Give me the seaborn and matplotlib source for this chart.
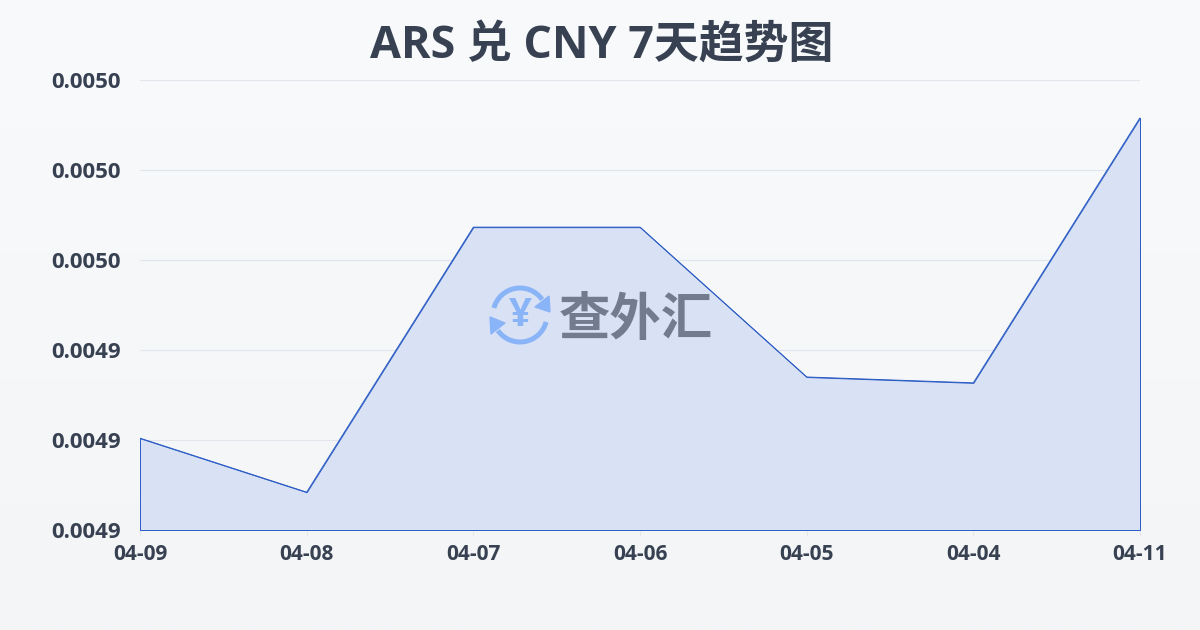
import numpy as np
import pandas as pd
import matplotlib
matplotlib.use("Agg")
import matplotlib.pyplot as plt
import seaborn as sns
from matplotlib.patches import Arc, Polygon

dates = ["04-09", "04-08", "04-07", "04-06", "04-05", "04-04", "04-11"]
rates = [0.0049204, 0.0049084, 0.0049673, 0.0049673, 0.0049340, 0.0049327, 0.0049916]
y_ticks = [0.00490, 0.00492, 0.00494, 0.00496, 0.00498, 0.00500]

sns.set_theme(style="white")
plt.rcParams['font.family'] = ['Open Sans', 'Noto Sans CJK SC', 'DejaVu Sans']

text_color = "#374151"
line_color = "#2a5bc4"

fig = plt.figure(figsize=(12, 6.3), dpi=100)

# page background, top to bottom gradient
bg = fig.add_axes([0, 0, 1, 1], zorder=0)
bg.imshow(np.linspace(0, 1, 256).reshape(-1, 1), aspect="auto", extent=[0, 1, 0, 1],
          cmap=matplotlib.colors.LinearSegmentedColormap.from_list("bg", ["#f8fafc", "#f3f5f7"]))
bg.axis("off")

ax = fig.add_axes([140 / 1200, 1 - 530 / 630, 1000 / 1200, 450 / 630], zorder=1)
ax.patch.set_alpha(0)

df = pd.DataFrame({"date": dates, "rate": rates})
pos = np.arange(len(dates))
ax.fill_between(pos, rates, y_ticks[0], facecolor="#d9e2f5", edgecolor=line_color,
                linewidth=0.7, zorder=2)
sns.lineplot(data=df, x="date", y="rate", sort=False, color=line_color, linewidth=0.7, ax=ax, zorder=3)

ax.set_xlim(0, len(dates) - 1)
ax.set_ylim(y_ticks[0], y_ticks[-1])
ax.set_xlabel("")
ax.set_ylabel("")
ax.set_xticks(pos)
ax.set_xticklabels(dates, fontsize=15, fontweight="bold", color=text_color)
ax.set_yticks(y_ticks)
ax.set_yticklabels([f"{v:.4f}" for v in y_ticks], fontsize=16, fontweight="bold", color=text_color)
ax.tick_params(axis="x", length=4, width=0.8, color="#e5e7eb", pad=6, bottom=True)
ax.tick_params(axis="y", length=0, pad=13.5)
for label in ax.get_yticklabels():
    label.set_y(label.get_position()[1])
ax.grid(axis="y", color="#e2e6ec", linewidth=0.8, zorder=1)
ax.set_axisbelow(True)
sns.despine(ax=ax, left=True, bottom=True)

fig.text(0.5017, 1 - 46 / 630, "ARS 兑 CNY 7天趋势图", ha="center", va="center",
         fontsize=32.3, fontweight="bold", color=text_color)

# watermark logo, overlay in pixel coordinates
wm = fig.add_axes([0, 0, 1, 1], zorder=5)
wm.set_xlim(0, 1200)
wm.set_ylim(630, 0)
wm.axis("off")
logo_blue = "#8ab4f8"
wm.add_patch(Arc((520, 315), 54, 54, theta1=195, theta2=325, color=logo_blue, lw=3.6))
wm.add_patch(Arc((520, 315), 54, 54, theta1=15, theta2=145, color=logo_blue, lw=3.6))
wm.add_patch(Polygon([[549, 296], [550, 312], [535, 307]], color=logo_blue))
wm.add_patch(Polygon([[491, 334], [490, 317], [505, 323]], color=logo_blue))
wm.text(520, 316, "¥", ha="center", va="center", fontsize=29, fontweight="bold", color=logo_blue)
wm.text(636, 322, "查外汇", ha="center", va="center", fontsize=37, fontweight="bold", color="#727c8c")

fig.savefig("out.png", dpi=100)
